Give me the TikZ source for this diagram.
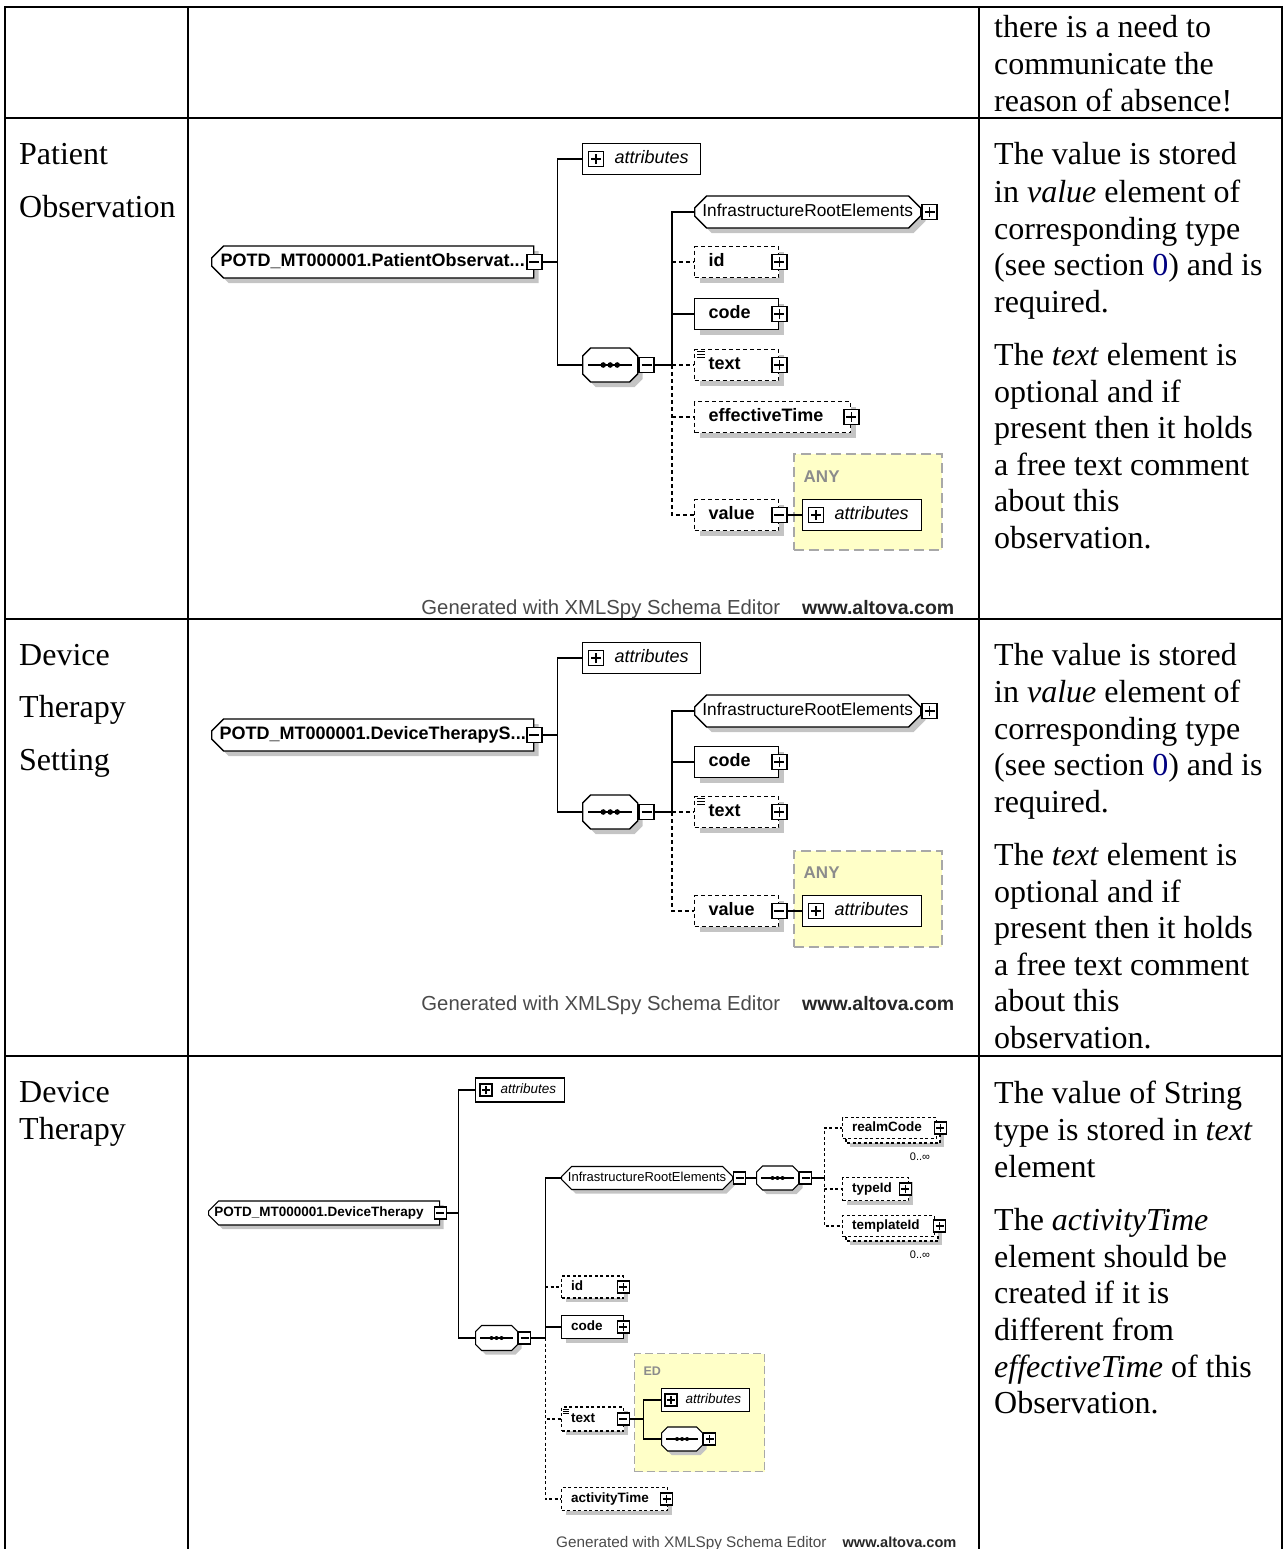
\documentclass[tikz,border=0pt]{standalone}
\usepackage{fontspec}
\setmainfont{Liberation Serif}
\newfontfamily\xs{Liberation Sans}
\usetikzlibrary{shapes.misc}
\definecolor{shgray}{HTML}{C4C4C4}
\definecolor{anyfill}{HTML}{FFFFC8}
\definecolor{anyedge}{HTML}{A8A8A8}
\definecolor{anylbl}{HTML}{8C8C8C}
\definecolor{foot}{HTML}{4A4A4A}
\definecolor{xref}{HTML}{000080}
% sequence compositor glyph: a line with three dots
\newcommand\seqglyph[4]{%
  \draw ([xshift=#2]#1.west) -- ([xshift=-#2]#1.east);
  \foreach \d in {-#3,0pt,#3} \fill ([xshift=\d]#1.center) circle[radius=#4];}
% one line of the description column
\newcommand\rl[3]{\node[celltext] (#1) at (994,#2) {#3};}
\begin{document}
\begin{tikzpicture}[x=1pt,y=-1pt,
  tablerule/.style={line width=2.4pt, line cap=rect},
  celltext/.style={anchor=base west, inner sep=0pt, font=\fontsize{32}{37}\selectfont},
  shd/.style={preaction={draw=none,fill=shgray,transform canvas={xshift=#1,yshift=-#1}}},
  shd/.default=5pt,
  optline/.style={dash pattern=on 4pt off 3pt},
  elbox/.style 2 args={draw, fill=white, rectangle, anchor=west, text width=#1,
    minimum height=#2, inner xsep=\elpad, inner ysep=0pt, align=left, font=\elf,
    text height=\elth, text depth=\eltd},
  attrbox/.style 2 args={draw, fill=white, rectangle, anchor=west, text width=#1,
    minimum height=#2, inner xsep=\atpad, inner ysep=0pt, align=left, font=\atf,
    text height=\elth, text depth=\eltd},
  octo/.style={chamfered rectangle, draw, fill=white, anchor=west, inner sep=0pt,
    chamfered rectangle xsep=#1, chamfered rectangle ysep=#1,
    text height=\elth, text depth=\eltd},
  pbox/.style={draw, fill=white, solid, rectangle, inner sep=0pt, minimum size=\pms},
  pbutton/.style={pbox, path picture={\draw[solid]
    ([xshift=\pmi]path picture bounding box.west) -- ([xshift=-\pmi]path picture bounding box.east)
    ([yshift=\pmi]path picture bounding box.south) -- ([yshift=-\pmi]path picture bounding box.north);}},
  mbutton/.style={pbox, path picture={\draw[solid]
    ([xshift=\pmi]path picture bounding box.west) -- ([xshift=-\pmi]path picture bounding box.east);}},
  anyarea/.style={draw=anyedge, fill=anyfill, dash pattern=on 10pt off 5pt,
    line width=1.5pt, anchor=north west, inner sep=0pt},
  anytag/.style={anchor=west, inner sep=0pt, text=anylbl,
    font=\xs\bfseries\fontsize{#1}{#1}\selectfont},
  credit/.style={anchor=base east, inner sep=0pt, text=foot},
]
\useasboundingbox (0,0) rectangle (1286,1549);

% ---------------- table grid ----------------
\draw[tablerule] (5,7) -- (1282,7);
\draw[tablerule] (5,118) -- (1282,118);
\draw[tablerule] (5,619) -- (1282,619);
\draw[tablerule] (5,1056) -- (1282,1056);
\draw[tablerule] (5,7) -- (5,1549);
\draw[tablerule] (188,7) -- (188,1549);
\draw[tablerule] (979,7) -- (979,1549);
\draw[tablerule] (1282,7) -- (1282,1549);

% ---------------- first column ----------------
\node[celltext] (l-po1) at (19,165) {Patient};
\node[celltext] (l-po2) at (19,218) {Observation};
\node[celltext] (l-ds1) at (19,665) {Device};
\node[celltext] (l-ds2) at (19,717) {Therapy};
\node[celltext] (l-ds3) at (19,770) {Setting};
\node[celltext] (l-dt1) at (19,1102) {Device};
\node[celltext] (l-dt2) at (19,1139) {Therapy};

% ---------------- description column ----------------
\rl{r1a}{38}{there is a need to}
\rl{r1b}{75}{communicate the}
\rl{r1c}{112}{reason of absence!}

\rl{r2a}{165}{The value is stored}
\rl{r2b}{202}{in \textit{value} element of}
\rl{r2c}{239}{corresponding type}
\rl{r2d}{275}{(see section \textcolor{xref}{0}) and is}
\rl{r2e}{312}{required.}
\rl{r2f}{365}{The \textit{text} element is}
\rl{r2g}{402}{optional and if}
\rl{r2h}{438}{present then it holds}
\rl{r2i}{475}{a free text comment}
\rl{r2j}{511}{about this}
\rl{r2k}{548}{observation.}

\rl{r3a}{665}{The value is stored}
\rl{r3b}{702}{in \textit{value} element of}
\rl{r3c}{739}{corresponding type}
\rl{r3d}{775}{(see section \textcolor{xref}{0}) and is}
\rl{r3e}{812}{required.}
\rl{r3f}{865}{The \textit{text} element is}
\rl{r3g}{902}{optional and if}
\rl{r3h}{938}{present then it holds}
\rl{r3i}{975}{a free text comment}
\rl{r3j}{1011}{about this}
\rl{r3k}{1048}{observation.}

\rl{r4a}{1103}{The value of String}
\rl{r4b}{1140}{type is stored in \textit{text}}
\rl{r4c}{1177}{element}
\rl{r4d}{1230}{The \textit{activityTime}}
\rl{r4e}{1267}{element should be}
\rl{r4f}{1303}{created if it is}
\rl{r4g}{1340}{different from}
\rl{r4h}{1377}{\textit{effectiveTime} of this}
\rl{r4i}{1413}{Observation.}

% ---------------- schema: PatientObservation ----------------
\begin{scope}[line width=1.4pt]
\def\elf{\xs\bfseries\fontsize{18}{20}\selectfont}
\def\atf{\xs\itshape\fontsize{18}{20}\selectfont}
\def\elth{13pt}\def\eltd{4pt}
\def\elpad{14pt}\def\atpad{8pt}
\def\pms{15pt}\def\pmi{2.5pt}
\node[anyarea, minimum width=148pt, minimum height=96pt] (po-any) at (793,453) {};
\node[anytag=17] (po-anyl) at (803,477) {ANY};
\node[octo=6pt, shd, chamfered rectangle corners={north west,south west},
  minimum width=322pt, minimum height=32pt, font=\elf] (po-root) at (211,262)
  {POTD\_MT000001.PatientObservat...};
\node[mbutton] (po-rm) at (po-root.east) {};
\node[attrbox={102pt}{31pt}] (po-attr) at (582,159) {\hspace*{24pt}attributes};
\node[pbutton] (po-ap) at ([xshift=14pt]po-attr.west) {};
\node[octo=8pt, shd, minimum width=55pt, minimum height=34pt] (po-seq) at (582,365) {};
\seqglyph{po-seq}{6pt}{7pt}{2.8pt}
\node[mbutton, anchor=west] (po-sm) at (po-seq.east) {};
\coordinate (po-j) at ([xshift=17pt]po-sm.east);
\node[octo=6pt, shd, minimum width=226pt, minimum height=32pt,
  font=\xs\fontsize{17.3}{20}\selectfont] (po-infra) at (694,212) {InfrastructureRootElements};
\node[pbutton, anchor=west] (po-ip) at (po-infra.east) {};
\node[elbox={56pt}{31pt}, optline, shd] (po-id) at (694,262) {id};
\node[pbutton] (po-idp) at (po-id.east) {};
\node[elbox={56pt}{31pt}, shd] (po-code) at (694,314) {code};
\node[pbutton] (po-cp) at (po-code.east) {};
\node[elbox={56pt}{31pt}, optline, shd] (po-text) at (694,365) {text};
\node[pbutton] (po-tp) at (po-text.east) {};
\foreach \k in {3pt,6pt,9pt}
  \draw[line width=1pt] ([xshift=3pt,yshift=-\k]po-text.north west) -- ++(8,0);
\node[elbox={128pt}{31pt}, optline, shd] (po-eff) at (694,417) {effectiveTime};
\node[pbutton] (po-ep) at (po-eff.east) {};
\node[elbox={56pt}{31pt}, optline, shd] (po-val) at (694,515) {value};
\node[mbutton] (po-vm) at (po-val.east) {};
\node[attrbox={103pt}{31pt}] (po-aa) at (802,515) {\hspace*{24pt}attributes};
\node[pbutton] (po-aap) at ([xshift=14pt]po-aa.west) {};
% connectors
\draw (po-rm.east) -- ++(15,0) |- (po-attr.west);
\draw (po-rm.east) -- ++(15,0) |- (po-seq.west);
\draw (po-sm.east) -- (po-j);
\draw (po-j) |- (po-infra.west);
\draw (po-j |- po-code.west) -- (po-code.west);
\draw[optline] (po-j |- po-id.west) -- (po-id.west);
\draw[optline] (po-j) -- (po-text.west);
\draw[optline] (po-j |- po-eff.west) -- (po-eff.west);
\draw[optline] (po-j) |- (po-val.west);
\draw (po-vm.east) -- (po-aa.west);
\node[credit] (po-foot) at (955,614) {\xs\fontsize{20.3}{24}\selectfont Generated with XMLSpy Schema Editor\hspace{22pt}{\color{black!85}\bfseries\fontsize{19.5}{24}\selectfont www.altova.com}};
\end{scope}

% ---------------- schema: DeviceTherapySetting ----------------
\begin{scope}[line width=1.4pt]
\def\elf{\xs\bfseries\fontsize{18}{20}\selectfont}
\def\atf{\xs\itshape\fontsize{18}{20}\selectfont}
\def\elth{13pt}\def\eltd{4pt}
\def\elpad{14pt}\def\atpad{8pt}
\def\pms{15pt}\def\pmi{2.5pt}
\node[anyarea, minimum width=148pt, minimum height=96pt] (ds-any) at (793,850) {};
\node[anytag=17] (ds-anyl) at (803,873) {ANY};
\node[octo=6pt, shd, chamfered rectangle corners={north west,south west},
  minimum width=322pt, minimum height=32pt, font=\elf] (ds-root) at (211,735)
  {POTD\_MT000001.DeviceTherapyS...};
\node[mbutton] (ds-rm) at (ds-root.east) {};
\node[attrbox={102pt}{31pt}] (ds-attr) at (582,658) {\hspace*{24pt}attributes};
\node[pbutton] (ds-ap) at ([xshift=14pt]ds-attr.west) {};
\node[octo=8pt, shd, minimum width=55pt, minimum height=34pt] (ds-seq) at (582,812) {};
\seqglyph{ds-seq}{6pt}{7pt}{2.8pt}
\node[mbutton, anchor=west] (ds-sm) at (ds-seq.east) {};
\coordinate (ds-j) at ([xshift=17pt]ds-sm.east);
\node[octo=6pt, shd, minimum width=226pt, minimum height=32pt,
  font=\xs\fontsize{17.3}{20}\selectfont] (ds-infra) at (694,711) {InfrastructureRootElements};
\node[pbutton, anchor=west] (ds-ip) at (ds-infra.east) {};
\node[elbox={56pt}{31pt}, shd] (ds-code) at (694,762) {code};
\node[pbutton] (ds-cp) at (ds-code.east) {};
\node[elbox={56pt}{31pt}, optline, shd] (ds-text) at (694,812) {text};
\node[pbutton] (ds-tp) at (ds-text.east) {};
\foreach \k in {3pt,6pt,9pt}
  \draw[line width=1pt] ([xshift=3pt,yshift=-\k]ds-text.north west) -- ++(8,0);
\node[elbox={56pt}{31pt}, optline, shd] (ds-val) at (694,911) {value};
\node[mbutton] (ds-vm) at (ds-val.east) {};
\node[attrbox={103pt}{31pt}] (ds-aa) at (802,911) {\hspace*{24pt}attributes};
\node[pbutton] (ds-aap) at ([xshift=14pt]ds-aa.west) {};
% connectors
\draw (ds-rm.east) -- ++(15,0) |- (ds-attr.west);
\draw (ds-rm.east) -- ++(15,0) |- (ds-seq.west);
\draw (ds-sm.east) -- (ds-j);
\draw (ds-j) |- (ds-infra.west);
\draw (ds-j |- ds-code.west) -- (ds-code.west);
\draw[optline] (ds-j) -- (ds-text.west);
\draw[optline] (ds-j) |- (ds-val.west);
\draw (ds-vm.east) -- (ds-aa.west);
\node[credit] (ds-foot) at (955,1010) {\xs\fontsize{20.3}{24}\selectfont Generated with XMLSpy Schema Editor\hspace{22pt}{\color{black!85}\bfseries\fontsize{19.5}{24}\selectfont www.altova.com}};
\end{scope}

% ---------------- schema: DeviceTherapy ----------------
\begin{scope}[line width=1.1pt, optline/.style={dash pattern=on 3pt off 2.5pt}, shd/.default=4pt]
\def\elf{\xs\bfseries\fontsize{13.5}{16}\selectfont}
\def\atf{\xs\itshape\fontsize{13.5}{16}\selectfont}
\def\elth{10pt}\def\eltd{3pt}
\def\elpad{9.5pt}\def\atpad{6pt}
\def\pms{12pt}\def\pmi{2pt}
\node[anyarea, line width=1.2pt, dash pattern=on 8pt off 4pt,
  minimum width=130pt, minimum height=118pt] (dt-ed) at (634,1353) {};
\node[anytag=12.5] (dt-edl) at (643,1371) {ED};
\node[octo=5pt, shd, chamfered rectangle corners={north west,south west},
  minimum width=231pt, minimum height=24pt, font=\elf] (dt-root) at (208,1213)
  {POTD\_MT000001.DeviceTherapy\hspace*{10pt}};
\node[mbutton] (dt-rm) at (dt-root.east) {};
\node[attrbox={77pt}{24pt}] (dt-attr) at (475,1090) {\hspace*{19pt}attributes};
\node[pbutton] (dt-ap) at ([xshift=11pt]dt-attr.west) {};
\node[octo=6pt, shd, minimum width=42pt, minimum height=25pt] (dt-seq) at (475,1338) {};
\seqglyph{dt-seq}{5pt}{5pt}{2pt}
\node[mbutton, anchor=west] (dt-sm) at (dt-seq.east) {};
\coordinate (dt-j) at ([xshift=14pt]dt-sm.east);
\node[octo=5pt, shd, minimum width=171pt, minimum height=23pt,
  font=\xs\fontsize{13}{16}\selectfont] (dt-infra) at (561,1178) {InfrastructureRootElements};
\node[mbutton, anchor=west] (dt-im) at (dt-infra.east) {};
\node[octo=6pt, shd, minimum width=42pt, minimum height=24pt] (dt-seq2) at (756,1178) {};
\seqglyph{dt-seq2}{5pt}{5pt}{2pt}
\node[mbutton, anchor=west] (dt-s2m) at (dt-seq2.east) {};
\coordinate (dt-k) at ([xshift=12pt]dt-s2m.east);
% repeated elements are stacked
\draw[optline, fill=white, shd] (846,1122) rectangle (940,1143);
\node[elbox={75pt}{21pt}, optline] (dt-realm) at (842,1128) {realmCode};
\node[pbutton] (dt-rp) at ([xshift=3pt]dt-realm.east) {};
\node[font=\xs\fontsize{11}{12}\selectfont, inner sep=0pt] (dt-rmul) at (920,1157) {0..∞};
\node[elbox={47pt}{23pt}, optline, shd] (dt-type) at (842,1189) {typeId};
\node[pbutton] (dt-tp) at ([xshift=-4pt]dt-type.east) {};
\draw[optline, fill=white, shd] (846,1220) rectangle (938,1241);
\node[elbox={73pt}{21pt}, optline] (dt-tmpl) at (842,1226) {templateId};
\node[pbutton] (dt-tlp) at ([xshift=4.5pt]dt-tmpl.east) {};
\node[font=\xs\fontsize{11}{12}\selectfont, inner sep=0pt] (dt-tmul) at (920,1255) {0..∞};
\node[elbox={43pt}{22pt}, optline, shd] (dt-id) at (561,1287) {id};
\node[pbutton] (dt-idp) at ([xshift=-1pt]dt-id.east) {};
\node[elbox={43pt}{23pt}, shd] (dt-code) at (561,1327) {code};
\node[pbutton] (dt-cp) at ([xshift=-1pt]dt-code.east) {};
\node[elbox={43pt}{24pt}, optline, shd] (dt-text) at (561,1419) {text};
\node[mbutton] (dt-tm) at ([xshift=-1pt]dt-text.east) {};
\foreach \k in {2.5pt,4.5pt,6.5pt}
  \draw[line width=0.8pt] ([xshift=2pt,yshift=-\k]dt-text.north west) -- ++(6,0);
\node[elbox={87pt}{23pt}, optline, shd] (dt-act) at (561,1499) {activityTime};
\node[pbutton] (dt-acp) at ([xshift=-1.5pt]dt-act.east) {};
\node[attrbox={76pt}{23pt}] (dt-ea) at (661,1400) {\hspace*{18pt}attributes};
\node[pbutton] (dt-eap) at ([xshift=10pt]dt-ea.west) {};
\node[octo=6pt, shd, minimum width=41pt, minimum height=24pt] (dt-es) at (661,1439) {};
\seqglyph{dt-es}{5pt}{5pt}{2pt}
\node[pbutton, anchor=west] (dt-esp) at (dt-es.east) {};
\coordinate (dt-e) at ([xshift=14pt]dt-tm.east);
% connectors
\draw (dt-rm.east) -- ++(12,0) |- (dt-attr.west);
\draw (dt-rm.east) -- ++(12,0) |- (dt-seq.west);
\draw (dt-sm.east) -- (dt-j);
\draw (dt-j) |- (dt-infra.west);
\draw (dt-j |- dt-code.west) -- (dt-code.west);
\draw[optline] (dt-j |- dt-id.west) -- (dt-id.west);
\draw[optline] (dt-j) |- (dt-text.west);
\draw[optline] (dt-j) |- (dt-act.west);
\draw (dt-im.east) -- (dt-seq2.west);
\draw (dt-s2m.east) -- (dt-k);
\draw[optline] (dt-k) |- (dt-realm.west);
\draw[optline] (dt-k) |- (dt-type.west);
\draw[optline] (dt-k) |- (dt-tmpl.west);
\draw (dt-tm.east) -- (dt-e);
\draw (dt-e) |- (dt-ea.west);
\draw (dt-e) |- (dt-es.west);
\node[credit] (dt-foot) at (957,1547) {\xs\fontsize{15.3}{18}\selectfont Generated with XMLSpy Schema Editor\hspace{16pt}{\color{black!85}\bfseries\fontsize{14.6}{18}\selectfont www.altova.com}};
\end{scope}
\end{tikzpicture}
\end{document}
